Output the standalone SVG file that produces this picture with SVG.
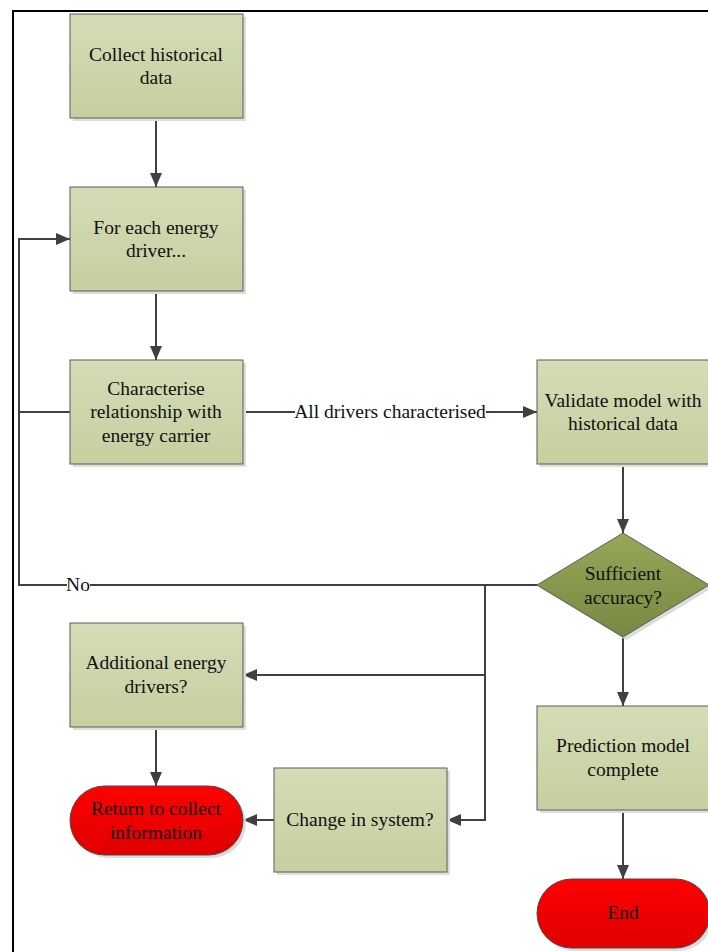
<svg xmlns="http://www.w3.org/2000/svg" width="708" height="952" viewBox="0 0 708 952">
  <defs>
    <linearGradient id="boxFill" x1="0" y1="0" x2="0" y2="1">
      <stop offset="0" stop-color="#d4dcb6"/>
      <stop offset="1" stop-color="#c6cf9f"/>
    </linearGradient>
    <linearGradient id="diaFill" x1="0" y1="0" x2="0" y2="1">
      <stop offset="0" stop-color="#97a85a"/>
      <stop offset="1" stop-color="#778841"/>
    </linearGradient>
    <linearGradient id="termFill" x1="0" y1="0" x2="0" y2="1">
      <stop offset="0" stop-color="#ff0000"/>
      <stop offset="1" stop-color="#df0000"/>
    </linearGradient>
    <marker id="arrow" viewBox="0 0 14 12" refX="14" refY="6" markerWidth="14" markerHeight="12" markerUnits="userSpaceOnUse" orient="auto">
      <path d="M0,0 L14,6 L0,12 Z" fill="#404040"/>
    </marker>
  </defs>
  <style>
    .box { fill: url(#boxFill); stroke: #5b5b5b; stroke-width: 1; }
    .dia { fill: url(#diaFill); stroke: #5b5b5b; stroke-width: 1; }
    .term { fill: url(#termFill); stroke: #4a4a4a; stroke-width: 1; }
    .shadow { fill: #dcdcdc; }
    text { font-family: "Liberation Serif", "Times New Roman", serif; font-size: 19.5px; fill: #111; text-anchor: middle; }
    .edge { fill: none; stroke: #404040; stroke-width: 2; }
    .arr { marker-end: url(#arrow); }
  </style>

  <rect width="708" height="952" fill="#ffffff"/>
  <!-- outer frame -->
  <path d="M13,952 V11 H708" fill="none" stroke="#000" stroke-width="2"/>

  <g id="connectors">
    <path class="edge arr" d="M156,118 V187"/>
    <path class="edge arr" d="M156,291 V360"/>
    <path class="edge arr" d="M243,412 H537"/>
    <rect x="295" y="402" width="191" height="20" fill="#fff"/>
    <text x="390" y="418">All drivers characterised</text>
    <path class="edge arr" d="M623,464 V533"/>
    <!-- No: loop back to the driver step -->
    <path class="edge arr" d="M537,585 H19 V239 H70"/>
    <path class="edge" d="M70,412 H19"/>
    <rect x="67" y="575" width="23" height="20" fill="#fff"/>
    <text x="78" y="591">No</text>
    <!-- further checks -->
    <path class="edge arr" d="M485,585 V820 H447"/>
    <path class="edge arr" d="M485,675 H243"/>
    <path class="edge arr" d="M623,637 V706"/>
    <path class="edge arr" d="M156,727 V786"/>
    <path class="edge arr" d="M274,820 H243"/>
    <path class="edge arr" d="M623,810 V879"/>
  </g>

  <g id="collect">
    <rect class="shadow" x="73" y="17" width="173" height="104"/>
    <rect class="box" x="70" y="14" width="173" height="104"/>
    <text x="156" y="61">Collect historical</text>
    <text x="156" y="84">data</text>
  </g>

  <g id="each-driver">
    <rect class="shadow" x="73" y="190" width="173" height="104"/>
    <rect class="box" x="70" y="187" width="173" height="104"/>
    <text x="156" y="234">For each energy</text>
    <text x="156" y="257">driver...</text>
  </g>

  <g id="characterise">
    <rect class="shadow" x="73" y="363" width="173" height="104"/>
    <rect class="box" x="70" y="360" width="173" height="104"/>
    <text x="156" y="395">Characterise</text>
    <text x="156" y="418">relationship with</text>
    <text x="156" y="442">energy carrier</text>
  </g>

  <g id="validate">
    <rect class="shadow" x="540" y="363" width="173" height="104"/>
    <rect class="box" x="537" y="360" width="173" height="104"/>
    <text x="623" y="407">Validate model with</text>
    <text x="623" y="430">historical data</text>
  </g>

  <g id="accuracy">
    <path class="shadow" d="M626,536 L712,588 L626,640 L540,588 Z"/>
    <path class="dia" d="M623,533 L709,585 L623,637 L537,585 Z"/>
    <text x="623" y="580">Sufficient</text>
    <text x="623" y="604">accuracy?</text>
  </g>

  <g id="additional">
    <rect class="shadow" x="73" y="626" width="173" height="104"/>
    <rect class="box" x="70" y="623" width="173" height="104"/>
    <text x="156" y="669">Additional energy</text>
    <text x="156" y="693">drivers?</text>
  </g>

  <g id="return">
    <rect class="shadow" x="73" y="789" width="173" height="69" rx="34.5"/>
    <rect class="term" x="70" y="786" width="173" height="69" rx="34.5"/>
    <text x="156" y="815">Return to collect</text>
    <text x="156" y="839">information</text>
  </g>

  <g id="change">
    <rect class="shadow" x="277" y="771" width="173" height="104"/>
    <rect class="box" x="274" y="768" width="173" height="104"/>
    <text x="360" y="826">Change in system?</text>
  </g>

  <g id="prediction">
    <rect class="shadow" x="540" y="709" width="173" height="104"/>
    <rect class="box" x="537" y="706" width="173" height="104"/>
    <text x="623" y="752">Prediction model</text>
    <text x="623" y="776">complete</text>
  </g>

  <g id="end">
    <rect class="shadow" x="540" y="882" width="173" height="69" rx="34.5"/>
    <rect class="term" x="537" y="879" width="173" height="69" rx="34.5"/>
    <text x="623" y="919">End</text>
  </g>
</svg>
